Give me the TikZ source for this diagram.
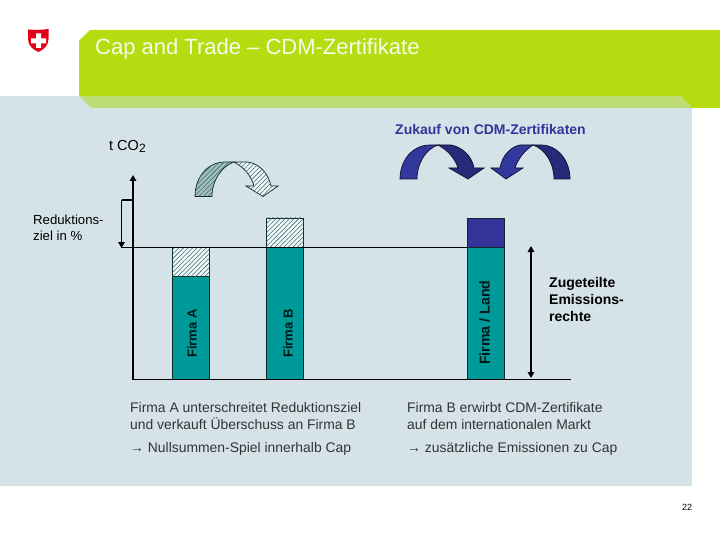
\documentclass[tikz,border=0pt]{standalone}
\usepackage{fontspec}
\setmainfont{Liberation Sans}
\usetikzlibrary{arrows.meta,patterns.meta}
\definecolor{bgblue}{HTML}{D5E3E9}
\definecolor{lime}{HTML}{B5DC10}
\definecolor{limelight}{HTML}{BEDD77}
\definecolor{tealbar}{HTML}{009999}
\definecolor{bluebar}{HTML}{333399}
\definecolor{bluedark}{HTML}{262A78}
\definecolor{bluemid}{HTML}{33399C}
\definecolor{outl}{HTML}{0B2A2A}
\definecolor{hatchc}{HTML}{2E6E6E}
\definecolor{foldc}{HTML}{A6BFBC}
\definecolor{swissred}{HTML}{E2001A}
\tikzset{
  lbl/.style={inner sep=0pt,anchor=west,align=left,text=black},
  bodytext/.style={lbl,font=\fontsize{13.9}{17}\selectfont,text=black!80},
  bartext/.style={inner sep=0pt,rotate=90,anchor=west,font=\fontsize{13}{13}\selectfont\bfseries,text=black!85!tealbar},
  bar/.style={draw=outl,line width=0.9pt,fill=tealbar},
  hatchbox/.style={draw=outl,line width=0.9pt,fill=white!75!bgblue,postaction={pattern={Lines[angle=45,distance=3.2pt,line width=0.55pt]},pattern color=hatchc}},
  bluebox/.style={draw=outl,line width=0.9pt,fill=bluebar},
  thin line/.style={draw=black,line width=1.1pt},
  tip/.style={-{Triangle[length=6pt,width=6.5pt]},draw=black,line width=1.9pt},
  tips/.style={{Triangle[length=6pt,width=6.5pt]}-{Triangle[length=6pt,width=6.5pt]},draw=black,line width=1.9pt},
  curvehatch/.style={draw=outl,line width=0.7pt,fill=#1,postaction={pattern={Lines[angle=45,distance=3.2pt,line width=0.55pt]},pattern color=hatchc}},
  curveblue/.style={draw=black!70!bluebar,line width=0.7pt,fill=#1}
}
\begin{document}
\begin{tikzpicture}[x=1pt,y=-1pt]
\useasboundingbox (0,0) rectangle (720,540);
\fill[white] (0,0) rectangle (720,540);
% background
\fill[bgblue] (0,96) rectangle (692,486);
% header band
\fill[lime] (90,30) -- (720,30) -- (720,108) -- (692,108) -- (680,96) -- (79,96) -- (79,41) -- cycle;
\fill[limelight] (79,96) -- (680,96) -- (692,108) -- (91,108) -- cycle;
\node[lbl,text=white!90!lime,font=\fontsize{22}{22}\selectfont] (title) at (95,49) {Cap and Trade – CDM-Zertifikate};
% swiss shield
\fill[swissred] (28,29.5) .. controls (34,30) and (42,30) .. (48.5,29) -- (48.5,39) .. controls (48.5,46) and (43,50) .. (38.5,52) .. controls (33.5,50) and (28,46) .. (28,39) -- cycle;
\fill[white] (36,33.5) rectangle (41,48) (31,38.5) rectangle (46,43.3);
% labels
\node[lbl,font=\fontsize{14.5}{14.5}\selectfont] (tco) at (109,146) {t CO\raisebox{-2pt}{\fontsize{12}{12}\selectfont 2}};
\node[lbl,text=bluebar,font=\fontsize{14}{14}\selectfont\bfseries] (zukauf) at (395,129.5) {Zukauf von CDM-Zertifikaten};
\node[lbl,font=\fontsize{13.2}{15.5}\selectfont] (reduk) at (33,228) {Reduktions-\\ziel in \%};
\node[lbl,font=\fontsize{14}{17}\selectfont\bfseries] (zug) at (549,299) {Zugeteilte\\Emissions-\\rechte};
\node[bodytext] (txtA) at (130,416) {Firma A unterschreitet Reduktionsziel\\und verkauft Überschuss an Firma B};
\node[bodytext] (txtB) at (407,416) {Firma B erwirbt CDM-Zertifikate\\auf dem internationalen Markt};
\node[bodytext] (txtC) at (130,449) {→ Nullsummen-Spiel innerhalb Cap};
\node[bodytext] (txtD) at (407,449) {→ zusätzliche Emissionen zu Cap};
\node[lbl,font=\fontsize{9}{9}\selectfont] (page) at (682,507) {22};
% bars
\node[bar,inner sep=0pt,minimum width=37pt,minimum height=103pt] (barA) at (191,327.5) {};
\node[hatchbox,inner sep=0pt,minimum width=37pt,minimum height=29pt] (hatchA) at (191,261.5) {};
\node[bar,inner sep=0pt,minimum width=37pt,minimum height=132pt] (barB) at (285,313) {};
\node[hatchbox,inner sep=0pt,minimum width=37pt,minimum height=29pt] (hatchB) at (285,232.5) {};
\node[bar,inner sep=0pt,minimum width=37pt,minimum height=132pt] (barC) at (486,313) {};
\node[bluebox,inner sep=0pt,minimum width=37pt,minimum height=29pt] (blueC) at (486,232.5) {};
\node[bartext] (ta) at (192,358) {Firma A};
\node[bartext] (tb) at (288,358) {Firma B};
\node[bartext,font=\fontsize{14.2}{14}\selectfont\bfseries] (tc) at (484.5,365) {Firma / Land};
% axes
\coordinate (origin) at (133,379.5);
\coordinate (ytop) at (133,175);
\coordinate (xend) at (571,379.5);
\coordinate (capL) at (121,247.5);
\coordinate (capR) at (467.5,247.5);
\coordinate (capTick) at (133,200);
\coordinate (redTop) at (121.5,200);
\coordinate (redEnd) at (121.5,248);
\coordinate (zugT) at (531,246);
\coordinate (zugB) at (531,378);
\draw[thin line] (origin) -- (xend);
\draw[thin line] (capL) -- (capR);
\draw[tip] (origin) -- (ytop);
\draw[thin line] (redTop) -- (capTick);
\draw[tip] (redTop) -- (redEnd);
\draw[tips] (zugT) -- (zugB);
% hatched curved arrow
\draw[curvehatch=white!75!bgblue] (234,162) -- (247,162) .. controls (258,163) and (268,172) .. (271,186) -- (278,186) -- (263,196.5) -- (246,186) -- (254,186) .. controls (251,176) and (245,168) .. (234,162) -- cycle;
\draw[curvehatch=foldc] (195,196.5) .. controls (195,178) and (207,162) .. (225,162) -- (234,162) .. controls (222,166) and (212,180) .. (212,196.5) -- cycle;
% blue curved arrows
\draw[curveblue=bluedark] (438,145) -- (451,145) .. controls (462,147) and (472,156) .. (474,168) -- (484,168) -- (468,179) -- (449,168) -- (458,168) .. controls (455,159) and (449,151) .. (438,145) -- cycle;
\draw[curveblue=bluemid] (400,179) .. controls (400,161) and (412,145) .. (430,145) -- (438,145) .. controls (426,149) and (417,163) .. (417,179) -- cycle;
\draw[curveblue=bluemid] (533,145) -- (520,145) .. controls (510,147) and (502,156) .. (500,168) -- (491,168) -- (506,179) -- (523,168) -- (515,168) .. controls (518,159) and (524,151) .. (533,145) -- cycle;
\draw[curveblue=bluedark] (570,179) .. controls (570,161) and (558,145) .. (541,145) -- (533,145) .. controls (545,149) and (554,163) .. (554,179) -- cycle;
\end{tikzpicture}
\end{document}
